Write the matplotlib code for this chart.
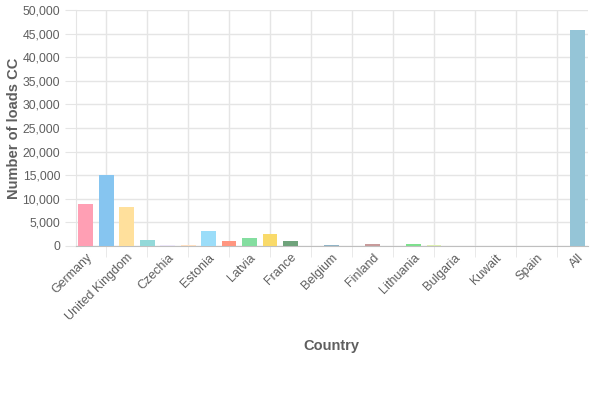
import matplotlib
matplotlib.use("Agg")
import matplotlib.pyplot as plt
import numpy as np

plt.rcParams['font.family'] = ['Liberation Sans', 'DejaVu Sans']

# 25 bar slots; only every second one carries a visible label
shown_labels = ["Germany", "United Kingdom", "Czechia", "Estonia", "Latvia", "France",
                "Belgium", "Finland", "Lithuania", "Bulgaria", "Kuwait", "Spain", "All"]
values = [8800, 15000, 8300, 1270, 150, 200, 3100, 1130, 1630, 2540, 1130, 0,
          200, 0, 400, 0, 500, 200, 0, 0, 0, 0, 0, 0, 45700]
colors = ["#ff9fb4", "#86c5f0", "#ffe09c", "#93d9d9", "#ece6f8", "#ffdfc0",
          "#9bddf9", "#ff9680", "#84dea0", "#f9da6a", "#6fa37b", "#c8c8c8",
          "#8fb3c6", "#dddddd", "#c89b9b", "#dddddd", "#7ee08e", "#ddefb0",
          "#e8e8c8", "#dddddd", "#dddddd", "#dddddd", "#dddddd", "#dddddd", "#95c5d7"]
yticks = list(range(0, 50001, 5000))

W, H = 591, 400
fig = plt.figure(figsize=(W / 100, H / 100), dpi=100)
L, R, T, B = 75.5, 587.5, 10, 246
ax = fig.add_axes([L / W, 1 - B / H, (R - L) / W, (B - T) / H])

n = len(values)
x = np.arange(n)
ax.bar(x, values, width=0.72, color=colors, zorder=3)

ax.set_xlim(-0.5, n - 0.5)
ax.set_ylim(0, 50000)

grid_c = "#e5e5e5"
txt_c = "#5f5f5f"

ax.set_yticks(yticks)
ax.set_yticklabels([f"{v:,}" for v in yticks])
ax.tick_params(axis='y', length=8, color=grid_c, labelsize=8.8, labelcolor=txt_c, pad=3)
ax.yaxis.grid(True, color=grid_c, linewidth=1, zorder=0)

ax.set_xticks(x[::2])
ax.set_xticklabels(shown_labels, rotation=45, ha='right', va='top', rotation_mode='anchor')
ax.set_xticks(np.arange(1, n, 2), minor=True)
ax.tick_params(axis='x', which='major', length=0, labelsize=9, labelcolor=txt_c, pad=4)
ax.tick_params(axis='x', which='minor', length=8, color=grid_c)
ax.xaxis.grid(True, which='minor', color=grid_c, linewidth=1, zorder=0)
ax.xaxis.grid(False, which='major')

for lab in ax.get_xticklabels():
    lab.set_transform(lab.get_transform() + matplotlib.transforms.ScaledTranslation(0, 0, fig.dpi_scale_trans))

for s in ['top', 'right']:
    ax.spines[s].set_visible(False)
ax.spines['left'].set_color(grid_c)
ax.spines['bottom'].set_color("#bfbfbf")

ax.set_ylabel("Number of loads CC", fontsize=10.5, fontweight='bold', color=txt_c, labelpad=1)
fig.text((L + R) / 2 / W, 1 - 346 / H, "Country", fontsize=10.5, fontweight='bold',
         color=txt_c, ha='center', va='center')

fig.savefig("out.png", dpi=100)
